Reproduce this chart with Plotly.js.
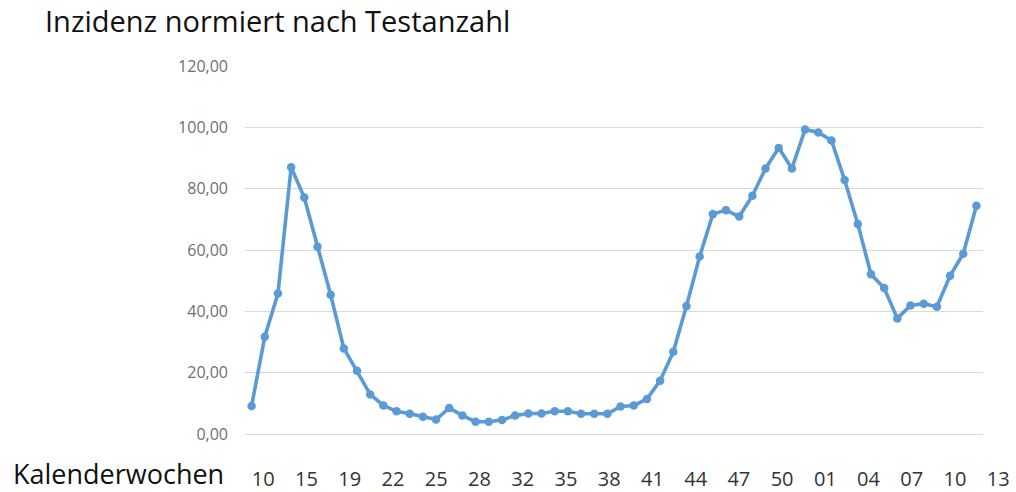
<!DOCTYPE html>
<html>
<head>
<meta charset="utf-8">
<script src="https://cdn.plot.ly/plotly-3.0.1.min.js"></script>
<style>html,body{margin:0;padding:0;background:#fff;}#chart{width:1016px;height:492px;}</style>
</head>
<body>
<div id="chart"></div>
<script>
// Calendar weeks 2020-KW10 ... 2021-KW12
const weeks = [
  "2020-10","2020-11","2020-12","2020-13","2020-14","2020-15","2020-16","2020-17","2020-18","2020-19",
  "2020-20","2020-21","2020-22","2020-23","2020-24","2020-25","2020-26","2020-27","2020-28","2020-29",
  "2020-30","2020-31","2020-32","2020-33","2020-34","2020-35","2020-36","2020-37","2020-38","2020-39",
  "2020-40","2020-41","2020-42","2020-43","2020-44","2020-45","2020-46","2020-47","2020-48","2020-49",
  "2020-50","2020-51","2020-52","2020-53","2021-01","2021-02","2021-03","2021-04","2021-05","2021-06",
  "2021-07","2021-08","2021-09","2021-10","2021-11","2021-12"
];
const inzidenz = [
  9.1, 31.7, 45.8, 87.0, 77.1, 61.1, 45.4, 27.9, 20.6, 12.9,
  9.3, 7.4, 6.6, 5.6, 4.7, 8.5, 6.0, 4.0, 4.0, 4.6,
  6.0, 6.7, 6.7, 7.4, 7.4, 6.6, 6.6, 6.6, 9.0, 9.3,
  11.4, 17.4, 26.8, 41.7, 57.9, 71.7, 73.0, 70.9, 77.7, 86.6,
  93.3, 86.6, 99.3, 98.3, 95.7, 82.8, 68.5, 52.1, 47.6, 37.7,
  41.9, 42.5, 41.5, 51.6, 58.8, 74.4
];
// Axis label row as printed under the chart
const weekLabels = ["10","15","19","22","25","28","32","35","38","41","44","47","50","01","04","07","10","13"];
const labelPos = weekLabels.map((_, i) => i);

const FONT = "'Open Sans', 'Noto Sans', sans-serif";

const traces = [
  {
    x: weeks, y: inzidenz, type: 'scatter', mode: 'lines+markers',
    line: {color: '#5B9BD5', width: 3.6},
    marker: {color: '#5B9BD5', size: 8.5},
    xaxis: 'x', yaxis: 'y', showlegend: false, hoverinfo: 'x+y'
  },
  {
    x: labelPos, y: labelPos.map(() => null), type: 'scatter', mode: 'markers',
    xaxis: 'x2', yaxis: 'y2', showlegend: false, hoverinfo: 'skip'
  }
];

const layout = {
  width: 1016, height: 492,
  margin: {l: 245, r: 10, t: 66, b: 57.5},
  paper_bgcolor: '#ffffff', plot_bgcolor: 'rgba(0,0,0,0)',
  separators: ',.',
  font: {family: FONT, color: '#404040'},
  title: {
    text: 'Inzidenz normiert nach Testanzahl',
    xref: 'container', yref: 'container',
    x: 45/1016, xanchor: 'left', y: 1 - 22/492, yanchor: 'middle',
    font: {family: FONT, size: 29, color: '#111111'}
  },
  xaxis: {
    type: 'category', domain: [0, 738/761], range: [-0.5, 55.5],
    showticklabels: false, showgrid: false, zeroline: false, showline: false, ticks: '',
    fixedrange: true
  },
  xaxis2: {
    anchor: 'free', position: 0, domain: [0, 1],
    range: [-0.423, 17.179],
    tickmode: 'array', tickvals: labelPos, ticktext: weekLabels,
    showgrid: false, zeroline: false, showline: false, ticks: '',
    ticklabelstandoff: 31,
    tickfont: {family: FONT, size: 20, color: '#333333'},
    fixedrange: true
  },
  yaxis: {
    range: [0, 120], tick0: 0, dtick: 20, tickformat: '.2f',
    showgrid: true, gridcolor: '#d9d9d9', gridwidth: 1,
    zeroline: true, zerolinecolor: '#d9d9d9', zerolinewidth: 1,
    showline: false, ticks: '',
    ticklabelstandoff: 16,
    tickfont: {family: FONT, size: 16, color: '#707070'},
    fixedrange: true
  },
  yaxis2: {
    overlaying: 'y', anchor: 'x2', range: [0, 1],
    showgrid: false, zeroline: false, showline: false, showticklabels: false, ticks: '',
    fixedrange: true
  },
  annotations: [
    {
      text: 'Kalenderwochen', xref: 'paper', yref: 'paper',
      x: -234/761, xanchor: 'left', y: -(474.5 - 434.5)/368.5, yanchor: 'middle',
      showarrow: false, font: {family: FONT, size: 27, color: '#111111'}
    }
  ]
};

Plotly.newPlot('chart', traces, layout, {displayModeBar: false, staticPlot: true});
</script>
</body>
</html>
